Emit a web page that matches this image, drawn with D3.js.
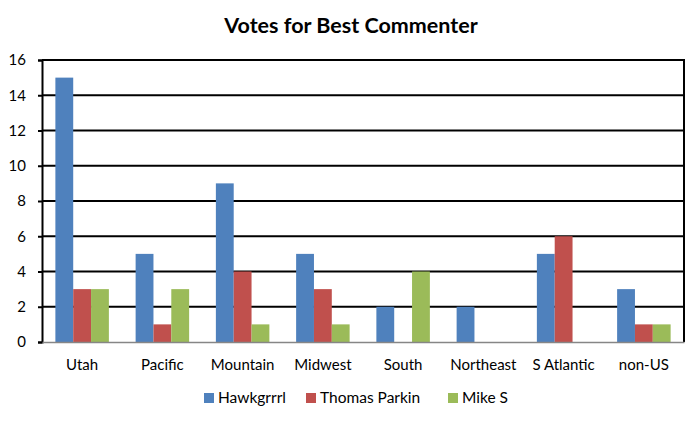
<!DOCTYPE html>
<html><head><meta charset="utf-8">
<script src="https://cdn.jsdelivr.net/npm/d3@7"></script>
<style>body{margin:0;background:#fff}svg{display:block;font-family:Lato,"Open Sans",sans-serif}</style>
</head><body>
<svg id="c" width="700" height="421"></svg>
<script>
const categories = ["Utah","Pacific","Mountain","Midwest","South","Northeast","S Atlantic","non-US"];
const seriesNames = ["Hawkgrrrl","Thomas Parkin","Mike S"];
const hawkgrrrl = [15,5,9,5,2,2,5,3];
const thomasParkin = [3,1,4,3,0,0,6,1];
const mikeS = [3,3,1,1,4,0,0,1];
const yTicks = [0,2,4,6,8,10,12,14,16];
const colors = ["#4F81BD","#C0504D","#9BBB59"];
const seriesValues = [hawkgrrrl, thomasParkin, mikeS];

const svg = d3.select("#c");
const L = 42, R = 684, T = 60, B = 342;
const x = d3.scaleBand().domain(categories).range([L, R]).paddingInner(0.3333).paddingOuter(0.1667);
const xs = d3.scaleBand().domain(seriesNames).range([0, x.bandwidth()]);
const y = d3.scaleLinear().domain([0,16]).range([B, T]);

svg.append("text").attr("x", 351).attr("y", 33).attr("text-anchor","middle")
  .attr("font-size", 21.5).attr("font-weight","bold").text("Votes for Best Commenter");

// gridlines
svg.append("g").selectAll("line").data(yTicks.filter(d=>d>0)).join("line")
  .attr("x1", L).attr("x2", R).attr("y1", d=>y(d)).attr("y2", d=>y(d))
  .attr("stroke","#000").attr("stroke-width",2);

// bars
const g = svg.append("g");
seriesNames.forEach((s,i)=>{
  g.append("g").selectAll("rect").data(categories).join("rect")
    .attr("x", c => x(c) + xs(s))
    .attr("width", xs.bandwidth())
    .attr("y", (c,j) => y(seriesValues[i][j]))
    .attr("height", (c,j) => B - y(seriesValues[i][j]))
    .attr("fill", colors[i]);
});

// right border
svg.append("line").attr("x1",R).attr("x2",R).attr("y1",T-1).attr("y2",B).attr("stroke","#000").attr("stroke-width",2);

// y axis
const ya = d3.axisLeft(y).tickValues(yTicks).tickSize(4).tickPadding(12);
const yg = svg.append("g").attr("transform",`translate(${L},0)`).call(ya);
yg.select(".domain").attr("stroke","#000").attr("stroke-width",2);
yg.selectAll(".tick line").attr("stroke","#000").attr("stroke-width",2);
yg.selectAll("text").attr("font-size",15).attr("fill","#000").attr("font-family","Lato,sans-serif");

// x axis
const xa = d3.axisBottom(x).tickSize(0).tickPadding(17);
const xg = svg.append("g").attr("transform",`translate(0,${B})`).call(xa);
xg.select(".domain").attr("stroke","#868686").attr("stroke-width",1.5);
xg.selectAll("text").attr("font-size",15).attr("fill","#000").attr("font-family","Lato,sans-serif");

// legend
const legX = [204, 306, 448];
const lg = svg.append("g");
seriesNames.forEach((s,i)=>{
  lg.append("rect").attr("x",legX[i]).attr("y",393).attr("width",10).attr("height",10).attr("fill",colors[i]);
  lg.append("text").attr("x",legX[i]+14).attr("y",403).attr("font-size",15.5).attr("fill","#000").text(s);
});
</script>
</body></html>
